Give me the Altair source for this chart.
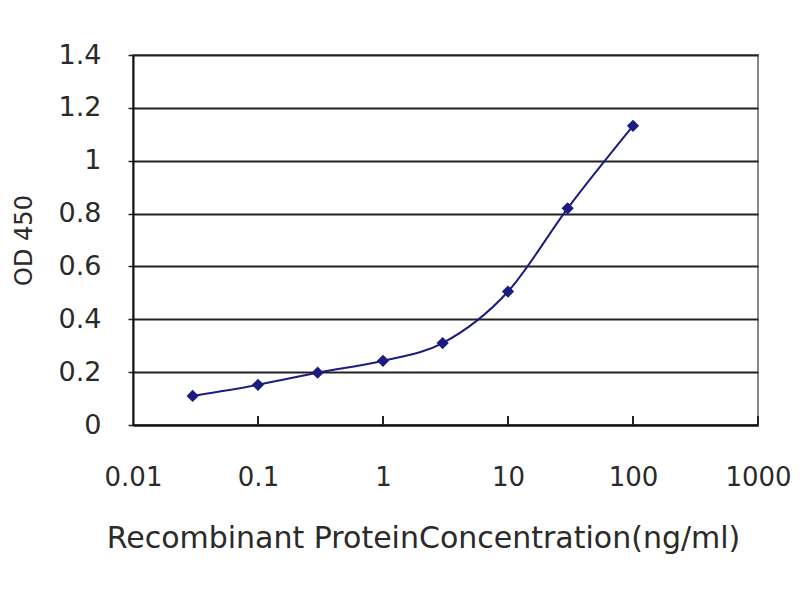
import altair as alt
import pandas as pd

# concentrations (ng/ml) and OD450 readings
conc = [0.03, 0.1, 0.3, 1, 3, 10, 30, 100]
od450 = [0.11, 0.152, 0.198, 0.243, 0.31, 0.505, 0.82, 1.132]

x_ticks = [0.01, 0.1, 1, 10, 100, 1000]
y_ticks = [0, 0.2, 0.4, 0.6, 0.8, 1, 1.2, 1.4]
inner_ticks = [0.1, 1, 10, 100, 1000]

navy = "#1c1c80"
font = "DejaVu Sans"

df = pd.DataFrame({"conc": conc, "od": od450})
ticks_df = pd.DataFrame({"conc": inner_ticks, "y0": 0.0, "y1": 0.034})

xscale = alt.Scale(type="log", domain=[0.01, 1000], nice=False)
yscale = alt.Scale(domain=[0, 1.4], nice=False)

x_enc = alt.X(
    "conc:Q",
    scale=xscale,
    axis=alt.Axis(
        title="Recombinant ProteinConcentration(ng/ml)",
        values=x_ticks,
        format="~g",
        grid=False,
        ticks=False,
        labelPadding=39,
        labelFontSize=26,
        labelFont=font,
        labelColor="#2a2a2a",
        labelFlush=False,
        domainColor="#111",
        domainWidth=2,
        titleFontSize=30,
        titleFont=font,
        titleFontWeight="normal",
        titleColor="#2a2a2a",
        titlePadding=33,
        titleX=290,
        titleAlign="center",
    ),
)

base = alt.Chart(df)

line = base.mark_line(color=navy, strokeWidth=2, interpolate="monotone").encode(
    x=x_enc,
    y=alt.Y(
        "od:Q",
        scale=yscale,
        axis=alt.Axis(
            title="OD 450",
            values=y_ticks,
            format="~g",
            grid=True,
            gridColor="#222",
            gridWidth=2.2,
            tickColor="#222",
            tickSize=5,
            tickWidth=1.5,
            labelPadding=27,
            labelFontSize=27,
            labelFont=font,
            labelColor="#2a2a2a",
            labelFlush=False,
            domainColor="#111",
            domainWidth=2,
            titleFontSize=24,
            titleFont=font,
            titleFontWeight="normal",
            titleColor="#2a2a2a",
            titlePadding=22,
        ),
    ),
)

points = base.mark_point(
    shape="diamond", filled=True, color=navy, size=150, opacity=1
).encode(x="conc:Q", y="od:Q")

inside_ticks = alt.Chart(ticks_df).mark_rule(color="#222", strokeWidth=2).encode(
    x=alt.X("conc:Q", scale=xscale), y=alt.Y("y0:Q", scale=yscale), y2="y1:Q"
)

chart = (
    alt.layer(inside_ticks, line, points)
    .properties(
        width=625,
        height=370,
        autosize=alt.AutoSizeParams(type="none"),
        padding={"left": 125, "top": 47, "right": 33, "bottom": 150},
        background="white",
    )
    .configure_view(stroke="#888", strokeWidth=2)
)

chart.save("out.html", embed_options={"renderer": "svg", "actions": False})
